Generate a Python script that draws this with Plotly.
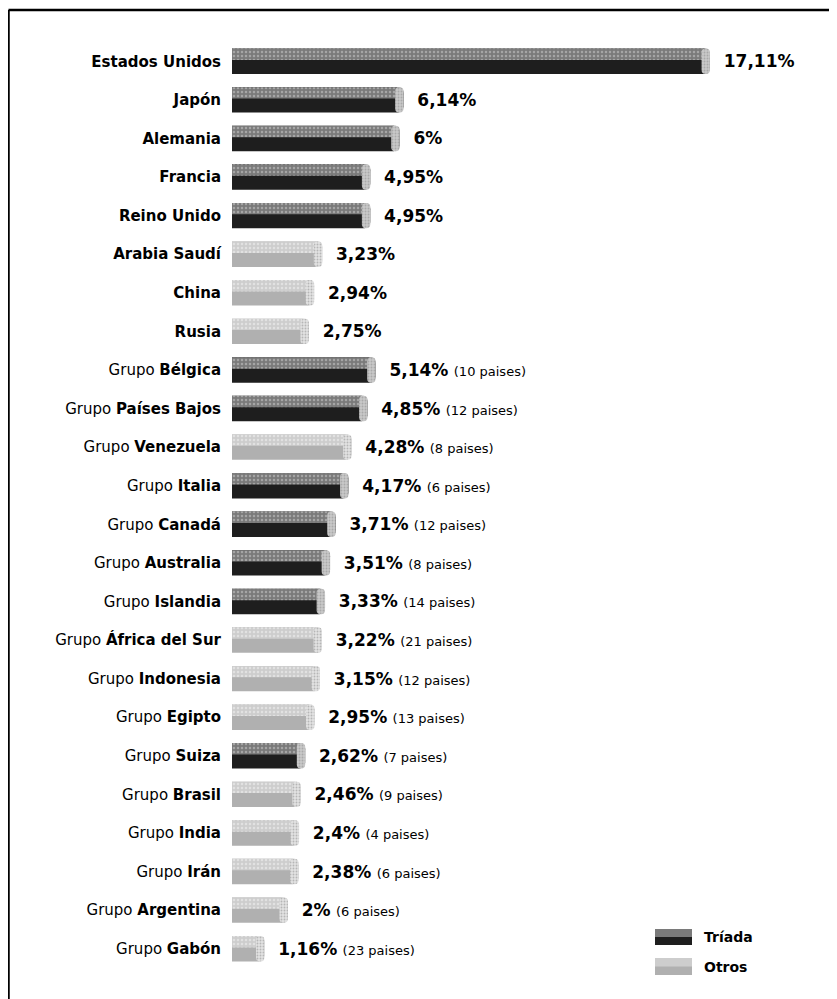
import plotly.graph_objects as go

# --- Datos ---
paises = ["Estados Unidos", "Japón", "Alemania", "Francia", "Reino Unido",
          "Arabia Saudí", "China", "Rusia", "Bélgica", "Países Bajos",
          "Venezuela", "Italia", "Canadá", "Australia", "Islandia",
          "África del Sur", "Indonesia", "Egipto", "Suiza", "Brasil",
          "India", "Irán", "Argentina", "Gabón"]
es_grupo = [False] * 8 + [True] * 16
valores = [17.11, 6.14, 6, 4.95, 4.95, 3.23, 2.94, 2.75, 5.14, 4.85,
           4.28, 4.17, 3.71, 3.51, 3.33, 3.22, 3.15, 2.95, 2.62, 2.46,
           2.4, 2.38, 2, 1.16]
n_paises = [None] * 8 + [10, 12, 8, 6, 12, 8, 14, 21, 12, 13, 7, 9, 4, 6, 6, 23]
bloque = ["Tríada", "Tríada", "Tríada", "Tríada", "Tríada",
          "Otros", "Otros", "Otros", "Tríada", "Tríada",
          "Otros", "Tríada", "Tríada", "Tríada", "Tríada",
          "Otros", "Otros", "Otros", "Tríada", "Otros",
          "Otros", "Otros", "Otros", "Otros"]
leyenda = ["Tríada", "Otros"]

etiquetas = [f"Grupo <b>{p}</b>" if g else f"<b>{p}</b>" for p, g in zip(paises, es_grupo)]

FUENTE = "DejaVu Sans, Verdana, sans-serif"


def texto_valor(v, n):
    s = f"  <b>{v:g}%</b>".replace(".", ",")
    if n is not None:
        s += f" <span style='font-size:13px'>({n} paises)</span>"
    return s


textos = [texto_valor(v, n) for v, n in zip(valores, n_paises)]

estilos = {
    "Tríada": dict(base="#1e1e1e", brillo="#7a7a7a", tapa="#c8c8c8", punto="#d0d0d0"),
    "Otros": dict(base="#b0b0b0", brillo="#cdcdcd", tapa="#e2e2e2", punto="#f4f4f4"),
}

fig = go.Figure()
ANCHO = 0.66

for nombre in leyenda:
    idx = [i for i, b in enumerate(bloque) if b == nombre]
    ys = [etiquetas[i] for i in idx]
    xs = [valores[i] for i in idx]
    est = estilos[nombre]
    # cuerpo del cilindro
    fig.add_trace(go.Bar(
        y=ys, x=xs, orientation="h", name=nombre,
        marker=dict(color=est["base"], line_width=0, cornerradius=6),
        width=ANCHO,
        text=[textos[i] for i in idx], textposition="outside",
        textfont=dict(family=FUENTE, size=17, color="black"),
        cliponaxis=False, showlegend=False,
    ))
    # reflejo superior
    fig.add_trace(go.Bar(
        y=ys, x=xs, orientation="h", name=nombre,
        marker=dict(color=est["brillo"], line_width=0, cornerradius=5,
                    pattern=dict(shape=".", size=4, solidity=0.3, fgcolor=est["punto"])),
        width=ANCHO * 0.45, offset=-ANCHO / 2,
        showlegend=False, hoverinfo="skip",
    ))
    # tapa del extremo
    fig.add_trace(go.Bar(
        y=ys, x=[0.3] * len(xs), base=[v - 0.3 for v in xs], orientation="h",
        marker=dict(color=est["tapa"], line_width=0, cornerradius=6,
                    pattern=dict(shape=".", size=3, solidity=0.3, fgcolor="#8a8a8a")),
        width=ANCHO, showlegend=False, hoverinfo="skip",
    ))

# marco (líneas superior e izquierda)
fig.add_shape(type="line", xref="paper", yref="paper", x0=-0.447, x1=1.3, y0=1.0346, y1=1.0346,
              line=dict(color="black", width=2.5))
fig.add_shape(type="line", xref="paper", yref="paper", x0=-0.447, x1=-0.447, y0=1.0346, y1=-0.04,
              line=dict(color="black", width=2.5))

# leyenda manual
for nombre, y0, y1 in [("Tríada", 0.0248, 0.0421), ("Otros", -0.0076, 0.0108)]:
    est = estilos[nombre]
    fig.add_shape(type="rect", xref="paper", yref="paper", x0=0.846, x1=0.92, y0=y0, y1=y1,
                  fillcolor=est["base"], line_width=0)
    fig.add_shape(type="rect", xref="paper", yref="paper", x0=0.846, x1=0.92, y0=(y0 + y1) / 2, y1=y1,
                  fillcolor=est["brillo"], line_width=0)
    fig.add_annotation(x=0.94, y=(y0 + y1) / 2, xref="paper", yref="paper",
                       xanchor="left", yanchor="middle",
                       text=f"<b>{nombre}</b>", showarrow=False,
                       font=dict(family=FUENTE, size=14, color="black"))

fig.update_layout(
    width=829, height=991,
    margin=dict(l=224, r=105, t=34, b=31),
    barmode="overlay",
    plot_bgcolor="white", paper_bgcolor="white",
    font=dict(family=FUENTE, color="black"),
    xaxis=dict(range=[0, 17.9], visible=False, fixedrange=True),
    yaxis=dict(autorange="reversed", categoryorder="array", categoryarray=etiquetas,
               showgrid=False, showline=False, zeroline=False,
               ticks="", ticklabelstandoff=10,
               tickfont=dict(family=FUENTE, size=15, color="black")),
    showlegend=False,
)

fig.write_html("out.html")
